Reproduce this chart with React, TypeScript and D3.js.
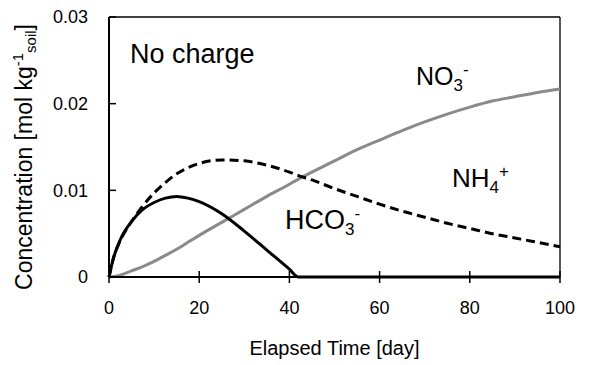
import React from 'react';
import * as d3 from 'd3';

// 経過日数
const days = [0, 1, 2.5, 5, 7.5, 10, 12.5, 15, 17.5, 20, 25, 30, 35, 40, 42, 45, 50, 55, 60, 65, 70, 75, 80, 85, 90, 95, 100];

// 濃度 [mol/kg soil]
const nh4 = [0, 0.0022, 0.0042, 0.0064, 0.0082, 0.0097, 0.0109, 0.0119, 0.0126, 0.0131, 0.0135, 0.0134, 0.0129, 0.0121, 0.0117, 0.0112, 0.0102, 0.0093, 0.0084, 0.0076, 0.0069, 0.0062, 0.0056, 0.005, 0.0045, 0.004, 0.0035];
const hco3 = [0, 0.0022, 0.0043, 0.0064, 0.0078, 0.0086, 0.0091, 0.0093, 0.0091, 0.0087, 0.0073, 0.0053, 0.0031, 0.0009, 0, 0, 0, 0, 0, 0, 0, 0, 0, 0, 0, 0, 0];
const no3 = [0, 0.00005, 0.0002, 0.0007, 0.0012, 0.0018, 0.0025, 0.0032, 0.004, 0.0048, 0.0063, 0.0078, 0.0093, 0.0107, 0.0113, 0.0121, 0.0134, 0.0147, 0.0158, 0.0169, 0.0179, 0.0188, 0.0196, 0.0203, 0.0208, 0.0213, 0.0217];

const xTicks = [0, 20, 40, 60, 80, 100];
const yTicks = [0, 0.01, 0.02, 0.03];
const yTickLabels = ['0', '0.01', '0.02', '0.03'];

const App: React.FC = () => {
  const width = 589;
  const height = 365;
  const left = 109;
  const right = 560;
  const top = 17;
  const bottom = 277;

  const x = d3.scaleLinear().domain([0, 100]).range([left, right]);
  const y = d3.scaleLinear().domain([0, 0.03]).range([bottom, top]);

  const line = (vals: number[]) =>
    d3.line<number>()
      .x((_, i) => x(days[i]))
      .y((d) => y(d))
      .curve(d3.curveMonotoneX)(vals) || '';

  const font = 'Arial, "Liberation Sans", sans-serif';

  return (
    <svg width={width} height={height} style={{ position: 'absolute', left: 0, top: 0, background: '#fff' }} fontFamily={font}>
      {/* 枠 */}
      <line x1={left} x2={right} y1={top} y2={top} stroke="#000" strokeWidth={1.3} />
      <line x1={right} x2={right} y1={top} y2={bottom} stroke="#000" strokeWidth={1.3} />

      {/* 曲線 */}
      <path d={line(no3)} fill="none" stroke="#8a8a8a" strokeWidth={3} />
      <path d={line(nh4)} fill="none" stroke="#000" strokeWidth={3} strokeDasharray="9,5" />
      <path d={line(hco3)} fill="none" stroke="#000" strokeWidth={3} />

      {/* 軸 */}
      <line x1={left} x2={left} y1={top} y2={bottom} stroke="#000" strokeWidth={2} />
      <line x1={left} x2={right} y1={bottom} y2={bottom} stroke="#000" strokeWidth={2} />

      {yTicks.map((t, i) => (
        <g key={'y' + t}>
          <line x1={left} x2={left + 7} y1={y(t)} y2={y(t)} stroke="#000" strokeWidth={1.5} />
          <text x={88} y={y(t)} dy="0.35em" textAnchor="end" fontSize={18}>{yTickLabels[i]}</text>
        </g>
      ))}
      {xTicks.map((t) => (
        <g key={'x' + t}>
          <line x1={x(t)} x2={x(t)} y1={bottom - 6} y2={bottom + 6} stroke="#000" strokeWidth={1.5} />
          <text x={x(t)} y={314} textAnchor="middle" fontSize={18}>{t}</text>
        </g>
      ))}

      {/* 軸ラベル */}
      <text x={(left + right) / 2} y={355} textAnchor="middle" fontSize={20}>Elapsed Time [day]</text>
      <text transform="translate(32,157) rotate(-90)" textAnchor="middle" fontSize={23}>
        Concentration [mol kg<tspan fontSize={15} dy={-9}>-1</tspan><tspan fontSize={15} dy={13}>soil</tspan><tspan dy={-4}>]</tspan>
      </text>

      {/* 注記 */}
      <text x={130} y={63} fontSize={27}>No charge</text>
      <text x={416} y={85} fontSize={25}>NO<tspan fontSize={17} dy={6}>3</tspan><tspan fontSize={17} dy={-16}>-</tspan></text>
      <text x={452} y={187} fontSize={26}>NH<tspan fontSize={17} dy={6}>4</tspan><tspan fontSize={17} dy={-16}>+</tspan></text>
      <text x={285} y={229} fontSize={27}>HCO<tspan fontSize={17} dy={6}>3</tspan><tspan fontSize={17} dy={-16}>-</tspan></text>
    </svg>
  );
};

export default App;
